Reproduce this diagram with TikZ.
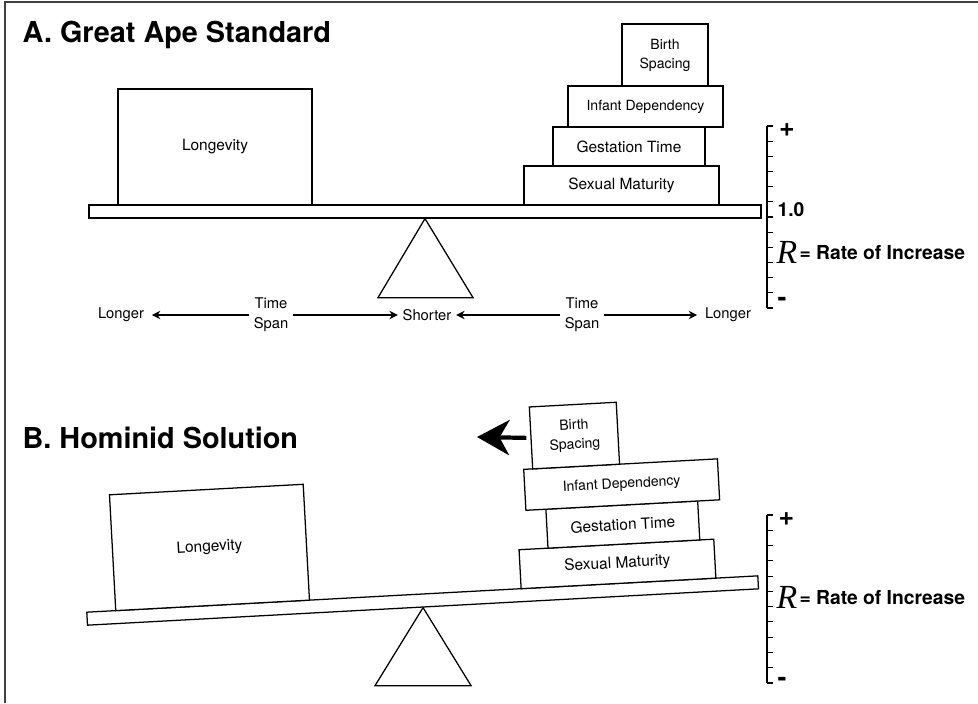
\documentclass[tikz,border=0pt]{standalone}
\usepackage{fontspec}
\setmainfont{TeX Gyre Heros}
\newfontfamily\serifR{Liberation Serif}
\usetikzlibrary{arrows,arrows.meta,calc}
\newcommand{\pxu}{0.025cm}

\begin{document}
\begin{tikzpicture}[x=\pxu,y=-\pxu,>={Stealth[length=6pt,width=6pt]},line width=0.9pt,
  block/.style={draw,fill=white,inner sep=0pt,align=center,font=\fontsize{11}{13.5}\selectfont},
  small block/.style={block,font=\fontsize{10}{13.5}\selectfont},
  beam/.style={draw,fill=white,inner sep=0pt,minimum width=672*\pxu,minimum height=13*\pxu},
  span label/.style={font=\fontsize{10.5}{14}\selectfont,align=center,inner sep=3pt},
  title/.style={font=\fontsize{20.5}{24}\selectfont\bfseries,anchor=base west,inner sep=0pt},
  rate/.style={font=\fontsize{13.7}{16}\selectfont\bfseries,inner sep=0pt},
  sign/.style={font=\fontsize{19}{20}\selectfont\bfseries,inner sep=0pt}]

\useasboundingbox (0,0) rectangle (978,703);
\draw[line width=1.5pt,black!75] (5,703) -- (5,2) -- (978,2);

% A. great ape standard
\node[title] (tA) at (22,43) {A. Great Ape Standard};
\node[beam] (beamA) at (425,211.5) {};
\draw (beamA.south) -- ++(-47,79) -- ++(95,0) -- cycle;
\node[block,minimum width=194*\pxu,minimum height=116*\pxu] (lgA) at (215,147) {Longevity};
\node[block,minimum width=195*\pxu,minimum height=39*\pxu] (smA) at (621.5,185.5) {Sexual Maturity};
\node[block,minimum width=152*\pxu,minimum height=39*\pxu] (gtA) at (629,146.5) {Gestation Time};
\node[small block,minimum width=155*\pxu,minimum height=41*\pxu] (idA) at (645.5,106.5) {Infant Dependency};
\node[small block,minimum width=86*\pxu,minimum height=62*\pxu] (bsA) at (665,55) {Birth\\Spacing};

\node[span label] (lgA1) at (121,315) {Longer};
\node[span label] (tsA1) at (271,315) {Time\\Span};
\node[span label] (shA) at (427,315) {Shorter};
\node[span label] (tsA2) at (582,315) {Time\\Span};
\node[span label] (lgA2) at (728,315) {Longer};
\path[->]
(tsA1) edge[shorten >=3*\pxu] (lgA1)
(tsA1) edge (shA)
(tsA2) edge (shA)
(tsA2) edge[shorten >=3*\pxu] (lgA2);

% rate scale A
\draw[line width=0.8pt] (767,126) -- (767,308);
\foreach \k in {0,...,12}
  \draw[line width=0.8pt] (767,{126+\k*15.17}) -- ++(6,0);
\node[sign] (plusA) at (787,130.5) {+};
\node[rate,anchor=west] (oneA) at (777,210) {1.0};
\node[sign] (minA) at (782,302) {-};
\node[anchor=west,inner sep=0pt] (rateA) at (776,252)
  {\raisebox{-2.8pt}{\serifR\itshape\fontsize{24}{24}\selectfont R}\,{\fontsize{13.7}{16}\selectfont\bfseries= Rate of Increase}};

% B. hominid solution
\node[title] (tB) at (22,448) {B. Hominid Solution};
\coordinate (pivB) at (423,607);
\begin{scope}[shift={(pivB)},rotate=3.1,transform shape]
\node[beam] (beamB) at (0,-6.5) {};
\node[block,minimum width=194*\pxu,minimum height=116*\pxu] (lgB) at (-210,-71) {Longevity};
\node[block,minimum width=195*\pxu,minimum height=39*\pxu] (smB) at (196.5,-32.5) {Sexual Maturity};
\node[block,minimum width=152*\pxu,minimum height=39*\pxu] (gtB) at (204,-71.5) {Gestation Time};
\node[small block,minimum width=194*\pxu,minimum height=41*\pxu] (idB) at (205,-111.5) {Infant Dependency};
\node[small block,minimum width=87*\pxu,minimum height=62*\pxu] (bsB) at (160.5,-163) {Birth\\Spacing};
\end{scope}
\draw (beamB.south) -- ++(-48,78) -- ++(96,0) -- cycle;
\coordinate (pushB) at (477,437);
\draw[line width=3pt,shorten <=4*\pxu,-{Stealth[length=23pt,width=25pt,inset=7pt]}] (bsB.west) -- (pushB);

% rate scale B
\draw[line width=0.8pt] (767,515) -- (767,683);
\foreach \k in {0,...,11}
  \draw[line width=0.8pt] (767,{515+\k*15.27}) -- ++(6,0);
\node[sign] (plusB) at (786.5,519) {+};
\node[sign] (minB) at (782,682) {-};
\node[anchor=west,inner sep=0pt] (rateB) at (776,597)
  {\raisebox{-2.8pt}{\serifR\itshape\fontsize{24}{24}\selectfont R}\,{\fontsize{13.7}{16}\selectfont\bfseries= Rate of Increase}};

\end{tikzpicture}
\end{document}
